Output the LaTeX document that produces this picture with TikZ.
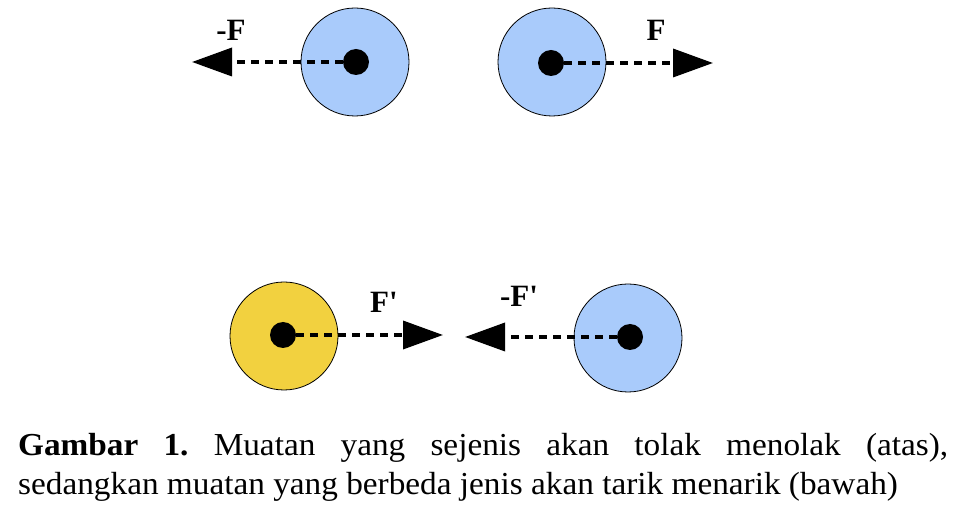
\documentclass[tikz,border=0pt]{standalone}
\usepackage{fontspec}
\setmainfont{Liberation Serif}
\newfontfamily\capfont[FakeStretch=1.04]{Liberation Serif}
\newfontfamily\lblfont[Ligatures=TeXOff]{Liberation Serif}
\usetikzlibrary{arrows.meta}
\definecolor{chargeblue}{HTML}{A9CBFB}
\definecolor{chargeyellow}{HTML}{F2D13F}
\begin{document}
\frenchspacing
\begin{tikzpicture}[x=1pt,y=-1pt,
  charge/.style={circle,draw=black,line width=0.8pt,minimum size=108pt,inner sep=0pt},
  core/.style={circle,fill=black,minimum size=26pt,inner sep=0pt},
  force/.style={line width=3.6pt,dash pattern=on 8pt off 6pt,
    -{Triangle[length=40pt,width=28pt]}},
  flabel/.style={font=\lblfont\fontsize{31}{34}\selectfont\bfseries,inner sep=0pt},
  caption/.style={font=\capfont\fontsize{32}{39}\selectfont,anchor=north west,
    text width=930pt,align=justify,inner sep=0pt}]
\useasboundingbox (0,0) rectangle (962,510);
% top row
\node[charge,fill=chargeblue] (c1) at (355,62) {};
\node[core] (d1) at (356,62) {};
\node[charge,fill=chargeblue] (c2) at (552,62) {};
\node[core] (d2) at (551,63) {};
\coordinate (t1) at (192,62);
\coordinate (t2) at (713,63);
\draw[force] (d1.west) -- (t1);
\draw[force] (d2.east) -- (t2);
\node[flabel] (l1) at (231,30) {-F};
\node[flabel] (l2) at (656,30) {F};
% bottom row
\node[charge,fill=chargeyellow] (c3) at (284,336) {};
\node[core] (d3) at (283,335) {};
\node[charge,fill=chargeblue] (c4) at (628,338) {};
\node[core] (d4) at (630,337) {};
\coordinate (t3) at (443,335);
\coordinate (t4) at (465,337);
\draw[force] (d3.east) -- (t3);
\draw[force] (d4.west) -- (t4);
\node[flabel] (l3) at (384,302) {F'};
\node[flabel] (l4) at (519,296) {-F'};
% caption
\node[caption] (cap) at (18,433) {\textbf{Gambar 1.} Muatan yang sejenis akan tolak menolak (atas),\linebreak sedangkan muatan yang berbeda jenis akan tarik menarik (bawah)};
\end{tikzpicture}
\end{document}
